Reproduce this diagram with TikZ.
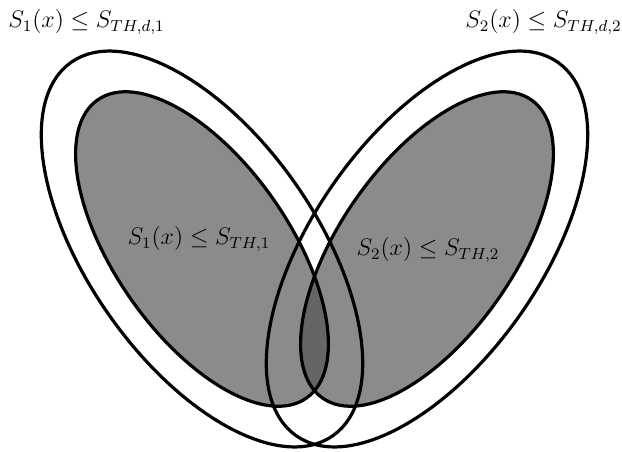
\documentclass[tikz,border=0pt]{standalone}
\usepackage{amssymb}
\usetikzlibrary{positioning}

\definecolor{setgray}{RGB}{138,139,141}
\definecolor{lensgray}{RGB}{100,101,103}

% regions of the left detector (the right one is its mirror image)
\newcommand{\outerregion}{(202,249) ellipse [x radius=228, y radius=114]}
\newcommand{\innerregion}{(202,249) ellipse [x radius=182, y radius=87]}

\begin{document}
\begin{tikzpicture}[
        x=0.5pt, y=-0.5pt,
        leftpair/.style={rotate around={-55:(202,249)}},
        mirror/.style={shift={(629,0)}, xscale=-1},
        setline/.style={line width=1.6pt, draw=black},
        innerset/.style={fill=setgray},
        overlap/.style={fill=lensgray},
        settext/.style={inner sep=0pt, font=\fontsize{11.5}{14}\selectfont}
    ]
        \useasboundingbox (0,0) rectangle (622,451);

        % Fills
        \fill[innerset, leftpair] \innerregion;
        \fill[innerset, mirror, leftpair] \innerregion;
        \begin{scope}
            \clip[leftpair] \innerregion;
            \fill[overlap, mirror, leftpair] \innerregion;
        \end{scope}

        % Outlines
        \draw[setline, leftpair] \outerregion;
        \draw[setline, leftpair] \innerregion;
        \draw[setline, mirror, leftpair] \outerregion;
        \draw[setline, mirror, leftpair] \innerregion;

        % Labels
        \node (dlab1) [settext, anchor=west] at (8,22) {$S_1(x) \leq S_{TH,d,1}$};
        \node (dlab2) [settext, anchor=east] at (622,22) {$S_2(x) \leq S_{TH,d,2}$};
        \node (lab1) [settext] at (199,239) {$S_1(x) \leq S_{TH,1}$};
        \node (lab2) [settext] at (428,250) {$S_2(x) \leq S_{TH,2}$};
    \end{tikzpicture}
\end{document}
